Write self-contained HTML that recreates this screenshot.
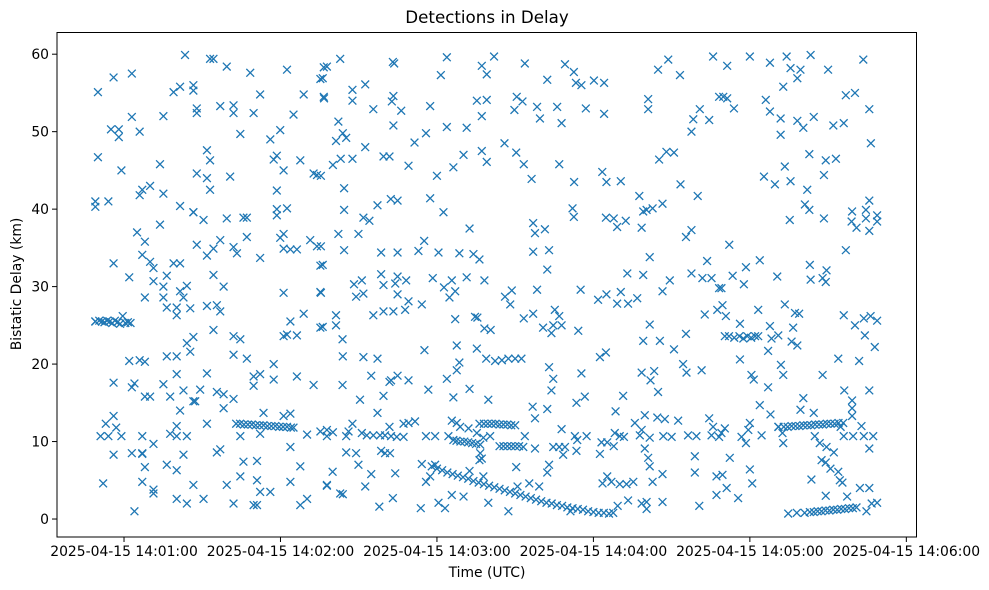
<!DOCTYPE html>
<html><head><meta charset="utf-8"><style>
html,body{margin:0;padding:0;background:#fff;}
svg{display:block;font-family:"DejaVu Sans","Liberation Sans",sans-serif;}
</style></head><body>
<svg id="chart" width="989" height="590" viewBox="0 0 989 590" xmlns="http://www.w3.org/2000/svg">
<rect x="0" y="0" width="989" height="590" fill="#fff"/>
<text x="487" y="23" text-anchor="middle" font-size="16.7" fill="#000">Detections in Delay</text>
<text x="487" y="577" text-anchor="middle" font-size="13.9" fill="#000">Time (UTC)</text>
<text transform="translate(21,284) rotate(-90)" text-anchor="middle" font-size="13.9" fill="#000">Bistatic Delay (km)</text>
<g id="marks"></g>
<g id="axes"></g>
</svg>
<script>
// seconds after 14:00:00 UTC, delay in km
const scatterT = [49,49,50,50,49,51,52,53,54,55,54,56,56,56,56,56,57,58,58,59,59,62,63,63,63,64,64,65,62,63,66,67,66,66,67,67,68,67,67,68,67,68,68,68,70,70,70,71.3,71.3,71.3,71.3,71.3,73.8,73.8,75.1,75.1,75.1,75.1,75.1,76.4,76.4,76.4,76.4,77.7,77.7,79,79,80.2,80.2,80.2,80.2,80.2,80.2,80.2,80.2,81.5,81.5,81.5,81.5,81.5,82.8,82.8,82.8,84.1,83.4,84.1,84.1,84.1,85.4,85.4,86.6,86.6,86.6,86.6,86.6,86.6,86.6,87.3,87.9,87.9,87.9,87.9,89.2,90.5,90.5,91.8,91.8,91.8,91.8,91.8,91.8,93,93,94.3,93,94.3,94.3,94.3,95.6,96.9,95.6,96.9,95.6,96.9,96.9,98.2,98.2,98.2,99.4,99.4,99.4,100.7,102,102,102,102,102,103.3,102,104.6,102,104.6,104.6,104.6,105.8,107.1,105.8,107.1,107.1,108.4,109.7,111,111,109.7,111,109.7,109.7,112.2,112.2,112.2,112.2,112.2,113.5,116.1,116.1,117.4,117.4,117.4,118.6,118.6,118.6,118.6,119.9,119.9,121.2,121.2,121.2,121.2,121.2,121.2,122.5,122.5,122.5,123.8,123.8,123.8,123.8,123.8,125,126.3,126.3,126.3,127.6,127.6,127.6,128.9,128.9,130.2,130.2,131.4,132.7,132.7,134,134,135.3,135.3,135.3,135.3,136.6,136.6,135.3,137.8,137.8,
142.9,137.8,136.2,136.7,147.6,147.6,152.5,163.1,163.6,162.7,163.3,155.6,166.3,163.3,177.4,183.8,181.5,197.2,199.1,201.9,195.3,199.1,197.2,209.7,210.6,142.2,143.9,141.3,145.2,140.1,143.1,147.6,152.5,135.5,144.4,144.4,159.5,161.8,169.1,171.4,175.8,183.8,191.4,180,186.3,190.2,197.2,199.1,205.9,210.4,157.2,162.3,164.9,177.4,182.5,151.8,154.1,142.2,149.9,144.4,135.5,136.2,135.5,136.2,175.1,192.5,158.6,164.9,172.9,180.6,188.6,194,196.3,148.2,151.2,158.6,159.5,164,164.9,168.2,164.9,149,151.8,178.4,182.7,185.7,184.8,187,191.4,198.2,206.1,208.7,208.1,169.1,167.8,174.2,155.6,159.5,163.3,141.3,141.3,187,194.6,195.5,198.2,200.6,143.8,143.9,151.8,157.2,175.2,187.6,188.6,187.6,195.3,198.9,202.3,204.9,207.4,210,143.8,154.8,161.8,162.4,164.9,169.1,183.8,176.7,192.5,186.3,199.7,150.5,159.5,157.2,137.8,140.1,145.2,146.1,147.6,151.2,153.1,155.6,158.2,160.1,161.8,162.4,164.6,167.2,167.2,169.1,171.6,175.8,179.3,184.4,185.7,187.6,188.9,192.1,195.3,197.8,200.4,145.2,149,158.6,160.1,162,196.6,197.2,196.3,149.9,154.8,164,140,174.2,179.3,175.8,177.4,192.5,197.8,210.4,210.9,137.8,152.5,142.9,143.9,185.7,190.2,163.1,157.9,173.8,180.6,183.1,199.7,207.4,
213.7,222.3,229.1,232.5,233.3,235.4,240.2,244.1,212.8,218.4,219.5,226.1,227.8,237.1,244.1,213.3,216.3,226.9,232.6,243.4,245,250.5,232,232.5,216.9,217.6,221.4,216.9,223,222.3,244.8,247.8,249.1,252.4,257.6,258.5,259.1,260.4,262.7,266.5,261,261,264.8,268.7,273.2,280.8,278.3,277.6,284.4,285.9,288.2,265.2,268,270.9,273.4,280,275.5,277.6,261.6,253,259.1,269.3,266.5,277.6,281.8,285.3,283.6,288.2,218.4,235.1,241.8,245,250.5,249.1,253.3,256.8,213.3,216.9,225.2,226.9,220.7,223.9,224.6,227.8,234.2,261.6,259.1,265.5,270.9,275.5,282.7,287.5,212.4,242.5,244.8,223,224.6,223.9,235.4,258.5,261.9,263.3,264.8,274.4,275.7,281.5,216.7,217.6,222.3,233.5,236.7,251.4,248.5,227.8,213.7,213.1,217.6,224.6,226.9,229.1,228.4,232.9,233.8,233.5,237.4,243.1,242.5,245.3,248.2,247.8,250.1,251.7,255.9,257.8,258.5,259.7,259.7,261.6,261,261.6,264.5,267.4,266.8,270,272.5,276.3,279.5,278.9,278.9,284.4,285.9,285.3,288.2,287.2,287.2,223,222.3,215.4,219.2,243.5,245.3,246.9,250.1,252.7,255.3,262.7,266.5,253.3,249.3,247.6,258.5,260.4,260.4,266.5,280.6,231.2,
291.3,300,307.7,314.1,315.6,319.4,318.2,323.3,330,343.5,312.8,289.8,291.3,293.9,306.1,307.7,311.8,311.8,318.2,320.5,324.5,332,336,336.8,340.3,345.8,346.4,322.8,329.1,333,313.4,328.4,305.4,309.6,315.6,322,321.1,322.8,315.3,328.4,339.2,339,340.9,344.5,345.8,344.5,348.8,348.8,345.8,292.1,336.8,303.8,298.5,293.4,297.7,289.1,310.5,323,323.3,327.9,329.4,329.1,289.5,290.8,303.2,313.4,317.3,318.9,336,340.3,343.7,346.3,348.8,344.1,347.9,296.2,307.7,316.6,308.3,310.9,307,316,318.2,296.2,333.9,341.9,311.9,312.8,300.6,301.5,307,327.9,336.2,345.8,320.5,319.4,324.5,303.8,307.9,339.2,339.2,339.2,290.4,289.1,300,299.4,296.8,298.5,304.5,310.9,312.5,312.8,334.8,336,339.6,342.8,343.7,347.3,345.8,324.9,326.8,329.4,332.2,327.5,329.1,330.9,333.9,334.5,335.5,323.6,292.3,289.5,291.1,300,300.9,295.5,329.1,337.3,342.2,345.8,344.7,346.7,348.8];
const scatterD = [40.3,41,55.1,46.7,25.5,10.7,4.6,12.3,10.7,50.3,41,13.3,57,33,17.6,8.3,11.8,49.3,50.3,45,10.7,31.2,57.5,51.9,17,17.5,1,37,20.4,8.5,50,8.5,41.8,20.5,8.4,42.5,20.3,10.7,4.8,6.7,34.1,28.6,35.8,15.8,15.8,43,33.2,3.8,3.3,32.4,9.7,30.7,45.8,38,52,30,42,17.4,28.6,27.3,7,21,31.4,11,15.8,33,55.1,27.3,26.3,21,18.7,2.6,6.3,12,10.7,40.4,55.8,33,29.4,14,16.6,28.6,8.3,10.7,59.9,30.1,22.7,2,27.2,21.6,39.6,39.6,55.3,56,4.4,23.5,15.2,15.2,53,52.4,44.6,35.4,16.7,38.6,2.6,18.8,12.3,34,47.6,27.5,44,42.5,59.4,59.4,46.3,24.4,31.5,34.9,8.6,9,27.6,26.8,16.4,36,53.3,16.1,30,14.3,4.4,58.4,38.8,44.2,21.2,15.5,53.4,52.4,35.1,34.3,23.6,23.2,2,49.7,10.7,5.5,38.9,38.9,7.4,20.7,36.4,57.6,52.4,7.5,5,1.8,1.8,17.2,18.4,33.7,54.8,18.7,3.5,11,13.7,49,3.5,20,18,46.4,46.9,42.4,40,39.2,36.3,50.2,36.8,29.2,23.6,45,34.9,13.3,23.8,58,40.1,9.3,34.8,4.8,13.6,25.5,52.2,34.8,23.7,18.4,46.3,1.8,6.8,54.8,26.5,10.9,2.6,36,44.6,17.3,44.4,35.2,29.3,32.7,56.8,24.7,54.5,58.3,11.3,10.7,4.4,
59.4,58.4,56.9,54.3,55.4,54,56.1,59,58.8,53.9,54.6,52.9,52.7,50.8,53.3,59.6,57.3,58.5,57.4,59.7,54,54.1,52,52.8,54.5,51.3,49.8,48.8,49.2,45.7,46.5,46.5,48,44.3,42.7,39.9,46.8,46.8,45.6,48.6,49.8,50.6,50.5,44.3,45.4,47,47.5,46.1,48.5,47.3,40.5,41.3,41.1,41.4,39.6,38.9,38.5,36.8,36.8,34.7,35.2,32.8,29.2,24.8,35.9,37.5,34.4,34.4,34.6,34.4,34.3,34.2,33.5,30.3,30.8,31.6,30.2,30.4,31.3,30.8,29,28.7,29.1,31.1,29.9,30.8,28.6,29.4,31.2,30.8,28.7,29.5,27.7,28.1,27,27.7,26.3,26.8,26.8,26.3,25,25.8,26.1,26,24.6,24.4,23.2,21,20.9,20.7,21.8,22.4,20.2,19.2,22,20.7,20.4,20.5,20.7,20.7,17.3,18.5,17.7,17.9,18.5,17.9,18.1,16.7,16.8,15.7,15.4,15.4,15.9,13.7,11.5,11.2,10.7,11.3,12.3,11.1,10.8,10.8,10.8,10.8,11.9,10.7,10.6,10.6,12.3,12.4,12.6,10.7,10.7,10.7,12.7,12.4,11.9,11.7,11.1,10.5,10.7,8.6,8.5,8.8,8.5,8.5,8.5,7.8,7.6,7,5.8,5.9,6.1,7.1,7,4.8,5.5,6.2,5.5,6.7,4.2,4.3,4.2,3.3,3.2,3.1,2.9,2.7,1.6,1.4,2.1,1.4,2.1,1,
58.8,56.7,58.7,57.7,56.3,56,56.6,56.3,53.9,53.2,51.7,53.2,51.1,53,52.3,45.8,43.9,45.8,43.5,44.8,43.5,43.6,40.1,39,38.2,36.9,37.4,34.5,34.7,32.2,38.9,38.8,37.7,38.5,41.7,37.6,39.7,39.9,40.1,40.7,54.2,52.9,58,59.3,57.3,52.9,51.6,50,51.5,59.7,54.5,46.4,47.4,47.3,43.2,41.7,36.4,37.3,33.8,31.7,31.5,30.8,29.4,31.7,31.1,31.1,33.3,29.8,29.6,29.6,28.3,29,29.3,27.8,27.8,28.5,25.9,26.5,27,26.2,24.7,24,25,25,24.3,25.1,23,23,21.9,23.9,26.4,27,20.7,20.9,21.5,19.6,18.1,16.6,18.8,18.9,17.9,19.1,16.4,20,18.9,19.2,14.5,13,14.2,15,15.8,15.9,13.9,11.6,10.7,9.3,9.1,9.3,9.3,9.3,8.3,10.7,10.2,8.8,10.7,9.9,8.4,9.9,11.1,9.4,10.7,10.6,12.4,10.8,11.5,13.4,9.1,10.5,7.9,6.8,13.1,12.9,10.7,10.6,12.7,10.8,10.7,8.1,6,13,11.9,10.8,10.6,5.5,3.1,7,6,4.6,4.2,4.6,5.5,4.8,4.5,4.5,4.8,4.8,5.8,2.4,1.7,0.8,2,2.2,1.3,2.2,1.7,1,
58.5,59.7,58.9,59.7,58.2,58,56.9,59.9,58,59.3,55.8,54.5,54.3,53,54.1,52.6,51.7,49.6,51.4,50.5,51.9,50.8,51.1,54.7,55,52.9,48.5,47.1,46.3,46.5,45.5,44.4,44.2,43.2,43.6,42.5,40.6,39.9,38.6,38.8,39.7,38.4,37.6,39.9,41.1,38.8,39.2,38.4,37.2,35.4,34.7,33.4,32.5,31.4,30.3,29.8,31.3,32.8,30.9,31.1,32.1,30.6,27.6,26.2,27,27.7,26.6,26.5,26.3,25,25.9,26.2,25.6,23.7,22.2,25.2,24.9,24.7,23.3,23.7,21.7,22.9,22.4,20.6,20.7,20.4,19.9,18.6,18.6,18,17,18.6,16.6,16.6,15.6,14.1,13.7,14.7,13.5,15.3,14.3,13.3,11.7,11.1,12.4,11.5,10.6,9.8,10.8,11.9,11.1,9.8,11.9,10.7,10.7,12,10.7,10.7,9.1,10.7,9.8,9.3,8.6,7.6,7.3,6.5,6.1,5,4.7,5.1,7.9,5.7,4,6.4,4.6,2.7,3,2.9,4,4,1,2,2.1];
// dense tracks
const trackAT = [49,50.5,51.5,52.5,53.5,54.5,55.5,56.5,57.5,58.5,59.5,60.5,61.5,62.5];
const trackAD = [25.5,25.6,25.5,25.4,25.6,25.5,25.3,25.6,25.4,25.2,26.2,25.3,25.4,25.3];
const trackBT = [103,104.5,106,107.5,109,110.5,112,113.5,115,116.5,118,119.5,121,122.5,124,125];
const trackBD = [12.3,12.3,12.2,12.2,12.2,12.1,12.1,12.1,12,12,12,11.9,11.9,11.9,11.8,11.8];
const trackCT = [178,180,182,184,186,188,190,192,194,196,198,200,202,204,206,208,210,212,214,216,218,220,222,224,226,228,230,232,234,236,238,240,242,244,246];
const trackCD = [6.8,6.5,6.3,6.0,5.8,5.6,5.4,5.2,4.9,4.7,4.5,4.3,4.1,3.9,3.7,3.5,3.3,3.1,2.9,2.7,2.5,2.3,2.1,2.0,1.8,1.7,1.5,1.4,1.3,1.2,1.0,0.9,0.8,0.8,0.7];
const trackDT = [186.3,187.5,189,190.5,192,193.5,195,196.6,196.3,198,199.5,201,202.5,204,205.5,207,208.5,210,204,205.5,207,208.5,210,211.5];
const trackDD = [10.2,10.1,10,10,9.9,9.8,9.7,9.6,12.3,12.3,12.3,12.3,12.3,12.2,12.2,12.2,12.1,12.1,9.4,9.4,9.4,9.4,9.4,9.4];
const trackET = [311,313,314.5,316,317.5,319,320.5,322,323.5,325,326.5,328,329.5,331,332.5,334,335.8,314.7,318,321,323,324.5,326,327.5,329,330.5,332,333.5,335,336.5,338,339.5,340.9];
const trackED = [11.9,11.9,11.9,12,12,12,12.1,12.1,12.1,12.2,12.2,12.2,12.3,12.3,12.3,12.4,12.4,0.7,0.8,0.8,0.9,0.9,1,1,1.1,1.1,1.2,1.2,1.3,1.3,1.4,1.4,1.5];
const trackFT = [290.4,292,294,296,297.5,299,300.5,302,303.2];
const trackFD = [23.6,23.6,23.4,23.6,23.3,23.6,23.4,23.6,23.6];
const xTickVals = [60,120,180,240,300,360];
const xTickLabels = ["2025-04-15 14:01:00","2025-04-15 14:02:00","2025-04-15 14:03:00","2025-04-15 14:04:00","2025-04-15 14:05:00","2025-04-15 14:06:00"];
const yTickVals = [0,10,20,30,40,50,60];

const L=57, R=916.5, T=32.5, B=537;
const tMin=34.3, tMax=363.9, dMin=-2.32, dMax=62.8;
function xs(t){return L+(t-tMin)/(tMax-tMin)*(R-L);}
function ys(d){return B-(d-dMin)/(dMax-dMin)*(B-T);}
const NS="http://www.w3.org/2000/svg";
const marks=document.getElementById('marks');
const axes=document.getElementById('axes');
function mk(tag,attrs,parent){const e=document.createElementNS(NS,tag);for(const k in attrs)e.setAttribute(k,attrs[k]);parent.appendChild(e);return e;}
const allT=scatterT.concat(trackAT,trackBT,trackCT,trackDT,trackET,trackFT);
const allD=scatterD.concat(trackAD,trackBD,trackCD,trackDD,trackED,trackFD);
const n=Math.min(allT.length,allD.length);
const s=3.9;
for(let i=0;i<n;i++){
  const cx=xs(allT[i]), cy=ys(allD[i]);
  const p=mk('path',{d:`M${cx-s},${cy-s}L${cx+s},${cy+s}M${cx-s},${cy+s}L${cx+s},${cy-s}`,stroke:'#1f77b4','stroke-width':1.3,fill:'none'},marks);
  
  
}
const frame=mk('rect',{x:L,y:T,width:R-L,height:B-T,fill:'none',stroke:'#000','stroke-width':1},axes);


xTickVals.forEach((v,i)=>{
  const x=xs(v);
  const tk=mk('line',{x1:x,y1:B,x2:x,y2:B+5,stroke:'#000','stroke-width':1},axes);
  
  
  const tx=mk('text',{x:x,y:B+19,'text-anchor':'middle','font-size':13.9,fill:'#000'},axes);
  tx.textContent=xTickLabels[i];
  
  
});
yTickVals.forEach(v=>{
  const y=ys(v);
  const tk=mk('line',{x1:L-5,y1:y,x2:L,y2:y,stroke:'#000','stroke-width':1},axes);
  
  
  const tx=mk('text',{x:L-8,y:y+5,'text-anchor':'end','font-size':13.9,fill:'#000'},axes);
  tx.textContent=String(v);
  
  
});
</script>
</body></html>
